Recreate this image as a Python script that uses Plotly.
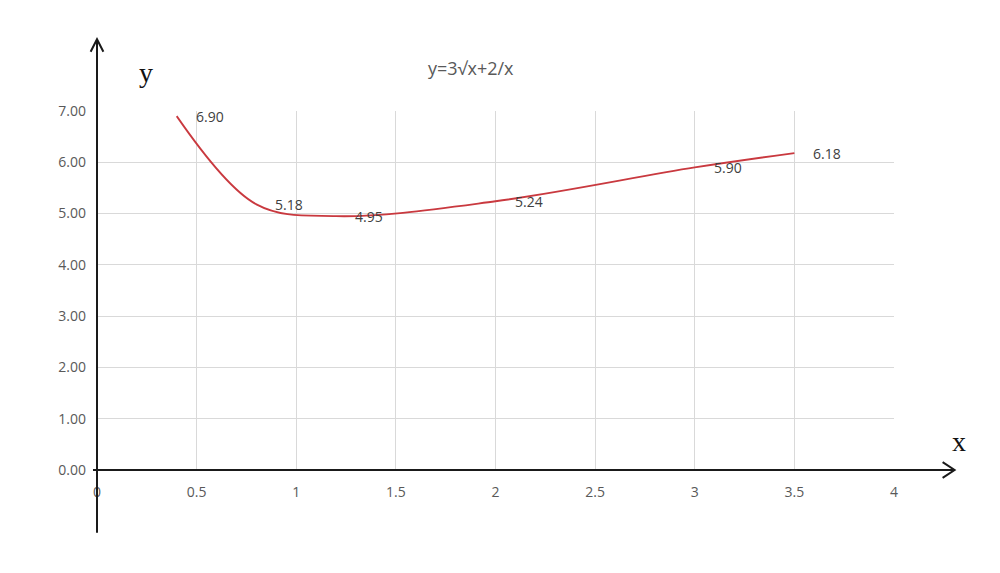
import plotly.graph_objects as go

# values
x_vals = [0.4, 0.8, 1.2, 2.0, 3.0, 3.5]
y_vals = [6.90, 5.18, 4.95, 5.24, 5.90, 6.18]
x_ticks = [0, 0.5, 1, 1.5, 2, 2.5, 3, 3.5, 4]
x_tick_text = ['0', '0.5', '1', '1.5', '2', '2.5', '3', '3.5', '4']
y_ticks = [0, 1, 2, 3, 4, 5, 6, 7]
y_tick_text = ['%.2f' % v for v in y_ticks]
title = 'y=3√x+2/x'

fig = go.Figure()
fig.add_trace(go.Scatter(x=x_vals, y=y_vals, mode='lines',
                         line=dict(color='#c9393f', width=1.8, shape='spline', smoothing=1.0),
                         hoverinfo='skip', showlegend=False))

# data labels, right of each point
for xv, yv in zip(x_vals, y_vals):
    fig.add_annotation(x=xv, y=yv, text='%.2f' % yv, showarrow=False,
                       xanchor='left', yanchor='middle', xshift=17,
                       font=dict(family='Open Sans', size=14, color='#404040'))

axis_line = dict(color='#1a1a1a', width=2)

# y axis with arrow (paper coords, beyond the plot box)
fig.add_shape(type='line', xref='paper', yref='paper', x0=0, x1=0, y0=-0.175, y1=1.20, line=axis_line)
fig.add_shape(type='path', xref='paper', yref='paper',
              path='M -0.008,1.165 L 0,1.20 L 0.008,1.165', line=axis_line)
# x axis with arrow
fig.add_shape(type='line', xref='paper', yref='paper', x0=-0.005, x1=1.076, y0=0, y1=0, line=axis_line)
fig.add_shape(type='path', xref='paper', yref='paper',
              path='M 1.061,0.022 L 1.076,0 L 1.061,-0.022', line=axis_line)

fig.add_annotation(x=0.061, y=1.108, xref='paper', yref='paper', text='y', showarrow=False,
                   xanchor='center', yanchor='middle',
                   font=dict(family='Liberation Serif', size=28, color='#111111'))
fig.add_annotation(x=1.081, y=0.08, xref='paper', yref='paper', text='x', showarrow=False,
                   xanchor='center', yanchor='middle',
                   font=dict(family='Liberation Serif', size=28, color='#111111'))
fig.add_annotation(x=0.469, y=1.12, xref='paper', yref='paper', text=title, showarrow=False,
                   xanchor='center', yanchor='middle',
                   font=dict(family='Open Sans', size=18, color='#595959'))

fig.update_xaxes(range=[0, 4], tickvals=x_ticks, ticktext=x_tick_text,
                 showgrid=True, gridcolor='#d9d9d9', gridwidth=1, zeroline=False,
                 showline=False, ticks='', ticklabelstandoff=12,
                 tickfont=dict(family='Open Sans', size=14, color='#595959'))
fig.update_yaxes(range=[0, 7], tickvals=y_ticks, ticktext=y_tick_text,
                 showgrid=True, gridcolor='#d9d9d9', gridwidth=1, zeroline=False,
                 showline=False, ticks='', ticklabelstandoff=10,
                 tickfont=dict(family='Open Sans', size=14, color='#595959'))

# page adds an 8px offset, margins compensate
fig.update_layout(width=1000, height=573, plot_bgcolor='white', paper_bgcolor='white',
                  margin=dict(l=89, r=114, t=103, b=111))

fig.write_html('out.html')
